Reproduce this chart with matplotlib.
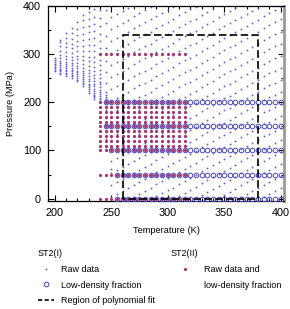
import matplotlib
matplotlib.use("Agg")
import matplotlib.pyplot as plt
from matplotlib.lines import Line2D
from matplotlib.ticker import MultipleLocator

plt.rcParams['font.family'] = ['Liberation Sans', 'DejaVu Sans']

# ST2(I) raw data: column temperatures (K) and the pressures (MPa) in each column
raw_T = [200, 205, 210, 215, 220, 225, 230, 235, 240, 245,
         250, 255, 260, 265, 270, 275, 280, 285, 290, 295,
         300, 305, 310, 315, 320, 325, 330, 335, 340, 345,
         350, 355, 360, 365, 370, 375, 380, 385, 390, 395, 400]
raw_P = [
    [265, 268, 271, 274, 277, 280, 284, 288, 292],
    [258, 261, 264, 267, 270, 273, 277, 281, 286, 292, 299, 307, 316, 325, 330],
    [255, 258, 261, 264, 267, 271, 275, 279, 284, 290, 297, 305, 314, 323, 333, 344],
    [251, 254, 257, 260, 264, 268, 272, 277, 282, 288, 295, 303, 312, 322, 332, 343, 354],
    [244, 247, 250, 254, 258, 262, 266, 271, 276, 282, 289, 297, 306, 316, 327, 339, 352, 366],
    [234, 237, 240, 244, 248, 252, 256, 261, 266, 272, 279, 287, 296, 306, 317, 329, 342, 356, 370, 382],
    [219, 223, 227, 231, 235, 239, 244, 249, 255, 261, 268, 276, 285, 295, 306, 318, 331, 345, 359, 373, 387],
    [207, 210, 213, 216, 220, 224, 228, 233, 238, 244, 250, 257, 265, 274, 284, 295, 307, 320, 334, 348, 362, 378, 393],
    [200, 203, 206, 209, 213, 217, 221, 226, 231, 237, 243, 250, 258, 267, 277, 288, 300, 313, 327, 342, 358, 375, 392],
    [108, 124, 138, 152, 168, 184, 200, 203, 207, 211, 216, 222, 240, 262, 286, 312, 338, 365, 392],
    [3, 28, 53, 62, 78, 103, 128, 153, 178, 203, 228, 253, 278, 303, 328, 353, 378],
    [9, 34, 59, 84, 109, 134, 159, 184, 209, 234, 259, 284, 309, 334, 359, 384],
    [15, 40, 65, 90, 115, 140, 165, 190, 215, 240, 265, 290, 315, 340, 365, 390],
    [21, 46, 71, 96, 121, 146, 171, 196, 221, 246, 271, 296, 321, 346, 371, 396],
    [4, 29, 54, 79, 104, 129, 154, 179, 204, 229, 254, 279, 304, 329, 354, 379],
    [10, 35, 60, 85, 110, 135, 160, 185, 210, 235, 260, 285, 310, 335, 360, 385],
    [16, 41, 66, 91, 116, 141, 166, 191, 216, 241, 266, 291, 316, 341, 366, 391],
    [22, 47, 72, 97, 122, 147, 172, 197, 222, 247, 272, 297, 322, 347, 372, 397],
    [5, 30, 55, 80, 105, 130, 155, 180, 205, 230, 255, 280, 305, 330, 355, 380],
    [11, 36, 61, 86, 111, 136, 161, 186, 211, 236, 261, 286, 311, 336, 361, 386],
    [17, 42, 67, 92, 117, 142, 167, 192, 217, 242, 267, 292, 317, 342, 367, 392],
    [23, 48, 73, 98, 123, 148, 173, 198, 223, 248, 273, 298, 323, 348, 373, 397],
    [6, 31, 56, 81, 106, 131, 156, 181, 206, 231, 256, 281, 306, 331, 356, 381],
    [12, 37, 62, 87, 112, 137, 162, 187, 212, 237, 262, 287, 312, 337, 362, 387],
    [18, 43, 68, 93, 118, 143, 168, 193, 218, 243, 268, 293, 318, 343, 368, 393],
    [24, 49, 74, 99, 124, 149, 174, 199, 224, 249, 274, 299, 324, 349, 374, 397],
    [7, 32, 57, 82, 107, 132, 157, 182, 207, 232, 257, 282, 307, 332, 357, 382],
    [13, 38, 63, 88, 113, 138, 163, 188, 213, 238, 263, 288, 313, 338, 363, 388],
    [19, 44, 69, 94, 119, 144, 169, 194, 219, 244, 269, 294, 319, 344, 369, 394],
    [2, 27, 52, 77, 102, 127, 152, 177, 202, 227, 252, 277, 302, 327, 352, 377],
    [8, 33, 58, 83, 108, 133, 158, 183, 208, 233, 258, 283, 308, 333, 358, 383],
    [14, 39, 64, 89, 114, 139, 164, 189, 214, 239, 264, 289, 314, 339, 364, 389],
    [20, 45, 70, 95, 120, 145, 170, 195, 220, 245, 270, 295, 320, 345, 370, 395],
    [3, 28, 53, 78, 103, 128, 153, 178, 203, 228, 253, 278, 303, 328, 353, 378],
    [9, 34, 59, 84, 109, 134, 159, 184, 209, 234, 259, 284, 309, 334, 359, 384],
    [15, 40, 65, 90, 115, 140, 165, 190, 215, 240, 265, 290, 315, 340, 365, 390],
    [21, 46, 71, 96, 121, 146, 171, 196, 221, 246, 271, 296, 321, 346, 371, 396],
    [4, 29, 54, 79, 104, 129, 154, 179, 204, 229, 254, 279, 304, 329, 354, 379],
    [10, 35, 60, 85, 110, 135, 160, 185, 210, 235, 260, 285, 310, 335, 360, 385],
    [16, 41, 66, 91, 116, 141, 166, 191, 216, 241, 266, 291, 316, 341, 366, 391],
    [22, 47, 72, 97, 122, 147, 172, 197, 222, 247, 272, 297, 322, 347, 372, 397],
]

# ST2(I) low-density fraction: pressure rows and the first temperature of each row
grid_T = [240, 245, 250, 255, 260, 265, 270, 275, 280, 285, 290, 295, 300, 305,
          310, 315, 320, 325, 330, 335, 340, 345, 350, 355, 360, 365, 370, 375,
          380, 385, 390, 395, 400]
lowd_P = [0, 50, 100, 150, 200]
lowd_Tstart = [255, 255, 250, 245, 245]

# ST2(II) raw data and low-density fraction
st2b_T = [240, 245, 250, 255, 260, 265, 270, 275, 280, 285, 290, 295, 300, 305, 310, 315]
st2b_P = [0, 50, 100, 110, 120, 130, 140, 150, 160, 170, 180, 190, 200, 300]

# region of polynomial fit
fit_T = [260, 380]
fit_P = [0, 340]

c_raw = '#6262d4'
c_lowd = '#5050bc'
c_st2b = '#a8336f'

fig = plt.figure(figsize=(2.9, 3.09), dpi=100)
ax = fig.add_axes([48 / 290, 1 - 201 / 309, 236 / 290, 195 / 309])

xs, ys = [], []
for t, ps in zip(raw_T, raw_P):
    xs += [t] * len(ps)
    ys += ps
ax.plot(xs, ys, ls='none', marker='o', ms=1.35, mew=0, color=c_raw, zorder=2)

cx, cy = [], []
for p, t0 in zip(lowd_P, lowd_Tstart):
    for t in grid_T:
        if t >= t0:
            cx.append(t)
            cy.append(p)
ax.plot(cx, cy, ls='none', marker='o', ms=3.3, mfc='none', mew=0.75, color=c_lowd, zorder=3)

bx = [t for p in st2b_P for t in st2b_T]
by = [p for p in st2b_P for t in st2b_T]
ax.plot(bx, by, ls='none', marker='o', ms=2.3, mew=0, color=c_st2b, zorder=4)

ax.plot([fit_T[0], fit_T[0], fit_T[1], fit_T[1], fit_T[0]],
        [fit_P[0], fit_P[1], fit_P[1], fit_P[0], fit_P[0]],
        color='black', lw=1.2, ls=(0, (4.5, 2)), zorder=5)

ax.set_xlim(194, 403)
ax.set_ylim(-5, 400)
ax.xaxis.set_major_locator(MultipleLocator(50))
ax.xaxis.set_minor_locator(MultipleLocator(10))
ax.yaxis.set_major_locator(MultipleLocator(100))
ax.yaxis.set_minor_locator(MultipleLocator(50))
ax.tick_params(which='both', direction='in', top=True, right=True, width=0.8)
ax.tick_params(which='major', length=4, labelsize=7.8, pad=5)
ax.tick_params(which='minor', length=2)
for s in ['left', 'bottom', 'top']:
    ax.spines[s].set_linewidth(0.9)
ax.spines['right'].set_color('#999999')
ax.spines['right'].set_linewidth(2)

ax.set_xlabel('Temperature (K)', fontsize=6.7, labelpad=6)
ax.set_ylabel('Pressure (MPa)', fontsize=6.7, labelpad=6)

h_raw = Line2D([], [], ls='none', marker='o', ms=1.35, mew=0, color=c_raw)
h_lowd = Line2D([], [], ls='none', marker='o', ms=3.3, mfc='none', mew=0.75, color=c_lowd)
h_fit = Line2D([], [], color='black', lw=1.2, ls=(0, (2.5, 1.5)))
h_st2b = Line2D([], [], ls='none', marker='o', ms=2.3, mew=0, color=c_st2b)
h_none = Line2D([], [], ls='none')

leg1 = fig.legend([h_raw, h_lowd, h_fit],
                  ['Raw data', 'Low-density fraction', 'Region of polynomial fit'],
                  title='ST2(I)', loc='upper left', bbox_to_anchor=(38 / 290, 1 - 249 / 309),
                  frameon=False, fontsize=6.5, title_fontsize=6.5, alignment='left',
                  handlelength=1.8, handletextpad=0.7, labelspacing=0.75, borderpad=0,
                  borderaxespad=0)
leg2 = fig.legend([h_st2b, h_none],
                  ['Raw data and', 'low-density fraction'],
                  title='ST2(II)', loc='upper left', bbox_to_anchor=(171 / 290, 1 - 249 / 309),
                  frameon=False, fontsize=6.5, title_fontsize=6.5, alignment='left',
                  handlelength=3.1, handletextpad=0.6, labelspacing=0.75, borderpad=0,
                  borderaxespad=0)

fig.savefig('out.png', dpi=100)
